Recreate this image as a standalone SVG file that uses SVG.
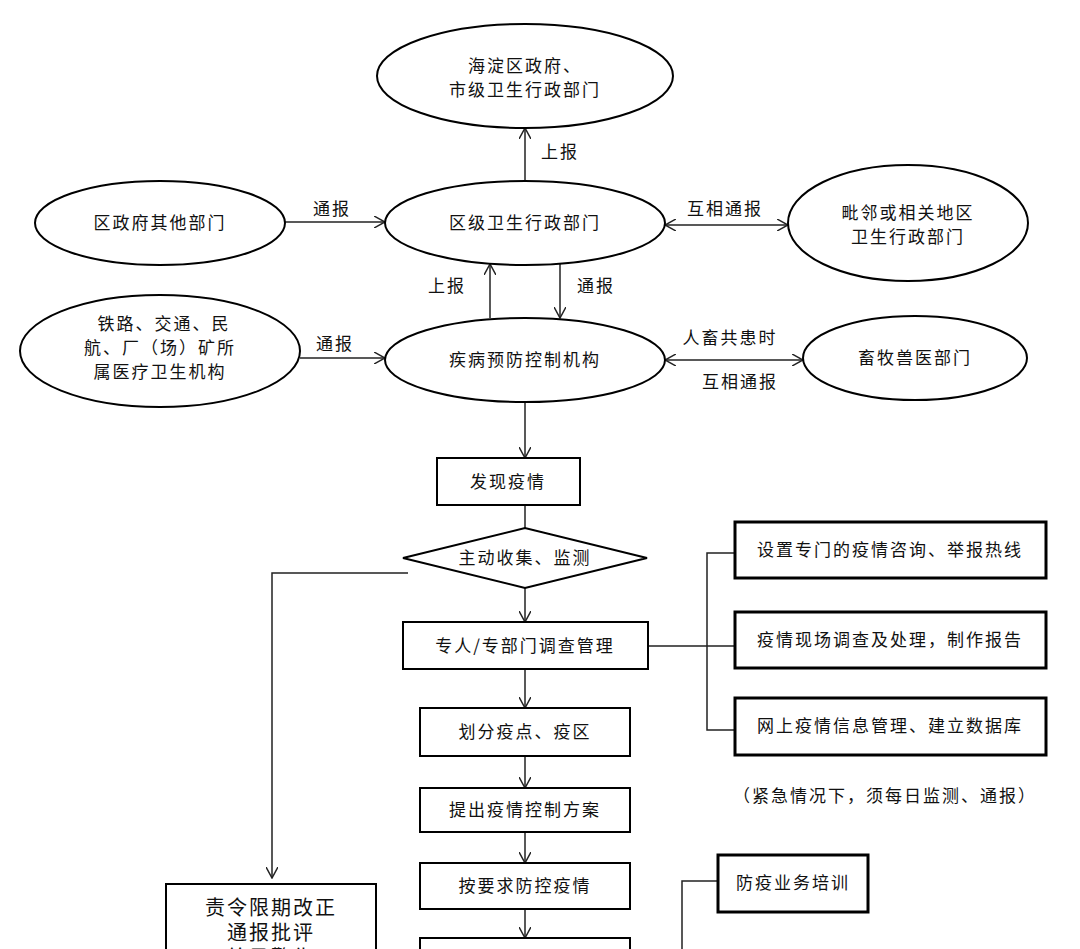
<svg xmlns="http://www.w3.org/2000/svg" width="1080" height="949" viewBox="0 0 1080 949">
<style>
.s{fill:#fff;stroke:#000;stroke-width:2}
.b{fill:#fff;stroke:#000;stroke-width:3}
.c{fill:none;stroke:#222;stroke-width:1.5}
text{font-family:"Noto Sans CJK SC","Liberation Sans",sans-serif;font-size:17px;fill:#111;text-anchor:middle;letter-spacing:2px}
</style>
<defs><marker id="a" viewBox="0 0 12 12" refX="11" refY="6" markerWidth="12" markerHeight="12" markerUnits="userSpaceOnUse" orient="auto-start-reverse"><path d="M0,0 L11,6 L0,12" fill="none" stroke="#222" stroke-width="1.5"/></marker></defs>
<rect width="1080" height="949" fill="#fff"/>
<g id="connectors" class="c">
<path d="M525,182V128" marker-end="url(#a)"/>
<path d="M285,222H385" marker-end="url(#a)"/>
<path d="M665,225H788" marker-start="url(#a)" marker-end="url(#a)"/>
<path d="M490,318V264" marker-end="url(#a)"/>
<path d="M560,264V318" marker-end="url(#a)"/>
<path d="M300,358H385" marker-end="url(#a)"/>
<path d="M665,360H803" marker-start="url(#a)" marker-end="url(#a)"/>
<path d="M525,402V458" marker-end="url(#a)"/>
<path d="M525,505V528"/>
<path d="M525,588V622" marker-end="url(#a)"/>
<path d="M525,669V708" marker-end="url(#a)"/>
<path d="M525,756V788" marker-end="url(#a)"/>
<path d="M525,832V863" marker-end="url(#a)"/>
<path d="M525,909V938" marker-end="url(#a)"/>
<path d="M408,573H272V878" marker-end="url(#a)"/>
<path d="M648,646H735M735,553H707V730H735"/>
<path d="M718,881H682V949"/>
</g>
<g id="labels">
<text x="560" y="158">上报</text>
<text x="332" y="215">通报</text>
<text x="725" y="215">互相通报</text>
<text x="447" y="292">上报</text>
<text x="596" y="292">通报</text>
<text x="335" y="350">通报</text>
<text x="730" y="344">人畜共患时</text>
<text x="740" y="388">互相通报</text>
<text x="885" y="802">（紧急情况下，须每日监测、通报）</text>
</g>
<g id="n1"><ellipse class="s" cx="525" cy="76" rx="148" ry="52"/><text x="525" y="72">海淀区政府、</text><text x="525" y="96">市级卫生行政部门</text></g>
<g id="n2"><ellipse class="s" cx="525" cy="223" rx="140" ry="42"/><text x="525" y="229">区级卫生行政部门</text></g>
<g id="n3"><ellipse class="s" cx="160" cy="223" rx="125" ry="42"/><text x="160" y="229">区政府其他部门</text></g>
<g id="n4"><ellipse class="s" cx="908" cy="223" rx="120" ry="58"/><text x="908" y="219">毗邻或相关地区</text><text x="908" y="243">卫生行政部门</text></g>
<g id="n5"><ellipse class="s" cx="525" cy="360" rx="140" ry="42"/><text x="525" y="366">疾病预防控制机构</text></g>
<g id="n6"><ellipse class="s" cx="160" cy="351" rx="140" ry="56"/><text x="164" y="330">铁路、交通、民</text><text x="160" y="354">航、厂（场）矿所</text><text x="160" y="378">属医疗卫生机构</text></g>
<g id="n7"><ellipse class="s" cx="915" cy="358" rx="112" ry="42"/><text x="915" y="364">畜牧兽医部门</text></g>
<g id="n8"><rect class="s" x="437" y="458" width="143" height="47"/><text x="508" y="488">发现疫情</text></g>
<g id="n9"><path class="s" d="M403,558L525,528L647,558L525,588Z"/><text x="525" y="564">主动收集、监测</text></g>
<g id="n10"><rect class="s" x="403" y="622" width="245" height="47"/><text x="525" y="652">专人/专部门调查管理</text></g>
<g id="n11"><rect class="s" x="420" y="708" width="210" height="48"/><text x="525" y="738">划分疫点、疫区</text></g>
<g id="n12"><rect class="s" x="420" y="788" width="210" height="44"/><text x="525" y="816">提出疫情控制方案</text></g>
<g id="n13"><rect class="s" x="420" y="863" width="210" height="46"/><text x="525" y="892">按要求防控疫情</text></g>
<g id="n14"><rect class="s" x="420" y="938" width="210" height="40"/></g>
<g id="n15"><rect class="b" x="735" y="522" width="311" height="56"/><text x="890" y="556">设置专门的疫情咨询、举报热线</text></g>
<g id="n16"><rect class="b" x="735" y="612" width="311" height="56"/><text x="890" y="646">疫情现场调查及处理，制作报告</text></g>
<g id="n17"><rect class="b" x="735" y="698" width="311" height="57"/><text x="890" y="732">网上疫情信息管理、建立数据库</text></g>
<g id="n18"><rect class="b" x="718" y="855" width="150" height="57"/><text x="793" y="889">防疫业务培训</text></g>
<g id="n19"><rect class="s" x="166" y="884" width="210" height="90"/><text x="271" y="915" style="font-size:20px">责令限期改正</text><text x="271" y="940" style="font-size:20px">通报批评</text><text x="271" y="965" style="font-size:20px">给予警告</text></g>
</svg>
